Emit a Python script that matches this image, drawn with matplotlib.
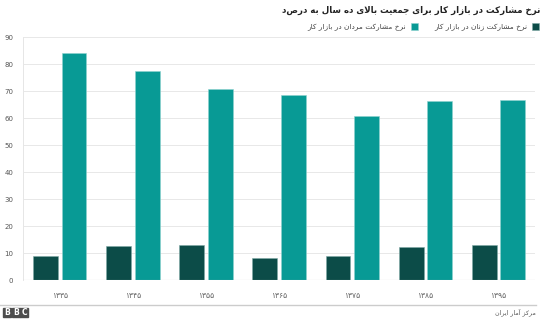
import numpy as np
import matplotlib
matplotlib.use("Agg")
import matplotlib.pyplot as plt
from matplotlib.patches import Rectangle

# ── Datos ─────────────────────────────────────────────────────────────────────
anios = ["۱۳۳۵", "۱۳۴۵", "۱۳۵۵", "۱۳۶۵", "۱۳۷۵", "۱۳۸۵", "۱۳۹۵"]
zanan = [9.1, 12.5, 12.9, 8.0, 8.9, 12.4, 13.1]
mardan = [83.9, 77.5, 70.9, 68.6, 60.9, 66.3, 66.5]
y_ticks = [0, 10, 20, 30, 40, 50, 60, 70, 80, 90]

titulo = "نرخ مشارکت در بازار کار برای جمعیت بالای ده سال به درصد"
lbl_zanan = "نرخ مشارکت زنان در بازار کار"
lbl_mardan = "نرخ مشارکت مردان در بازار کار"
fuente = "مرکز آمار ایران"

C_OSCURO = "#0c4c48"
C_TEAL = "#089a95"

# ── Formas contextuales (matplotlib no hace shaping ni bidi) ─────────────────
# letra: (aislada, final, inicial, medial)
FORMAS = {
    "ا": ("\uFE8D", "\uFE8E", None, None),
    "آ": ("\uFE81", "\uFE82", None, None),
    "د": ("\uFEA9", "\uFEAA", None, None),
    "ر": ("\uFEAD", "\uFEAE", None, None),
    "ز": ("\uFEAF", "\uFEB0", None, None),
    "و": ("\uFEED", "\uFEEE", None, None),
    "ب": ("\uFE8F", "\uFE90", "\uFE91", "\uFE92"),
    "ت": ("\uFE95", "\uFE96", "\uFE97", "\uFE98"),
    "ج": ("\uFE9D", "\uFE9E", "\uFE9F", "\uFEA0"),
    "خ": ("\uFEA5", "\uFEA6", "\uFEA7", "\uFEA8"),
    "س": ("\uFEB1", "\uFEB2", "\uFEB3", "\uFEB4"),
    "ش": ("\uFEB5", "\uFEB6", "\uFEB7", "\uFEB8"),
    "ع": ("\uFEC9", "\uFECA", "\uFECB", "\uFECC"),
    "ل": ("\uFEDD", "\uFEDE", "\uFEDF", "\uFEE0"),
    "م": ("\uFEE1", "\uFEE2", "\uFEE3", "\uFEE4"),
    "ن": ("\uFEE5", "\uFEE6", "\uFEE7", "\uFEE8"),
    "ه": ("\uFEE9", "\uFEEA", "\uFEEB", "\uFEEC"),
    "ک": ("\uFB8E", "\uFB8F", "\uFB90", "\uFB91"),
    "ی": ("\uFBFC", "\uFBFD", "\uFBFE", "\uFBFF"),
}
LAM_ALEF = {"ا": ("\uFEFB", "\uFEFC"), "آ": ("\uFEF5", "\uFEF6")}


def es_dual(ch):
    return ch in FORMAS and FORMAS[ch][2] is not None


def fa(texto):
    out = []
    i = 0
    n = len(texto)
    while i < n:
        c = texto[i]
        if c not in FORMAS:
            out.append(c)
            i += 1
            continue
        prev = texto[i - 1] if i > 0 else ""
        nxt = texto[i + 1] if i + 1 < n else ""
        une_prev = es_dual(prev)
        if c == "ل" and nxt in LAM_ALEF:
            out.append(LAM_ALEF[nxt][1 if une_prev else 0])
            i += 2
            continue
        une_next = es_dual(c) and nxt in FORMAS
        iso, fin, ini, med = FORMAS[c]
        if une_prev and une_next:
            out.append(med)
        elif une_prev:
            out.append(fin)
        elif une_next:
            out.append(ini)
        else:
            out.append(iso)
        i += 1
    return "".join(out)[::-1]


plt.rcParams["font.family"] = ["DejaVu Sans"]

fig = plt.figure(figsize=(5.5, 3.19), dpi=100)
ax = fig.add_axes([0.042, 0.122, 0.931, 0.762])

x = np.arange(len(anios))
w = 0.34
ax.bar(x - w / 2 - 0.025, zanan, w, color=C_OSCURO, edgecolor="#7fa9a6",
       linewidth=0.4, label=fa(lbl_zanan), zorder=3)
ax.bar(x + w / 2 + 0.025, mardan, w, color=C_TEAL, edgecolor="#8fd3d0",
       linewidth=0.4, label=fa(lbl_mardan), zorder=3)

ax.set_xlim(-0.5, len(anios) - 0.5)
ax.set_ylim(0, 90)
ax.set_yticks(y_ticks)
ax.set_yticklabels([str(v) for v in y_ticks], fontsize=5, color="#555555")
ax.set_xticks(x)
ax.set_xticklabels(anios, fontsize=5.5, color="#666666")
ax.tick_params(axis="both", length=0, pad=8)
ax.tick_params(axis="y", pad=7)
ax.grid(axis="y", color="#e8e8e8", linewidth=0.7, zorder=0)
for s in ["top", "right", "bottom"]:
    ax.spines[s].set_visible(False)
ax.spines["left"].set_color("#e6e6e6")
ax.spines["left"].set_linewidth(0.7)
ax.axhline(0, color="#bbbbbb", linewidth=0.8, zorder=4)

# titulo y leyenda (de derecha a izquierda)
fig.text(0.982, 0.966, fa(titulo), ha="right", va="center", fontsize=6.2,
         fontweight="bold", color="#222222")
h, l = ax.get_legend_handles_labels()
fig.legend(h[::-1], l[::-1], ncol=2, loc="center right",
           bbox_to_anchor=(0.992, 0.915), frameon=False, markerfirst=False,
           fontsize=5.3, handlelength=1.0, handleheight=1.0, handletextpad=0.6,
           columnspacing=2.2, labelcolor="#444444")

# pie: linea separadora, logo BBC, fuente
fig.add_artist(plt.Line2D([0.0, 0.975], [0.043, 0.043], transform=fig.transFigure,
                          color="#cccccc", linewidth=1.0))
for k, letra in enumerate("BBC"):
    x0 = (3 + k * 8.7) / 550
    fig.add_artist(Rectangle((x0, 2 / 319), 8 / 550, 9 / 319,
                             transform=fig.transFigure, color="#4d4d4d"))
    fig.text(x0 + 4 / 550, 6.5 / 319, letra, ha="center", va="center",
             fontsize=5.5, fontweight="bold", color="white")
fig.text(0.975, 0.022, fa(fuente), ha="right", va="center", fontsize=4.5,
         color="#555555")

fig.savefig("out.png", dpi=100, facecolor="white")
